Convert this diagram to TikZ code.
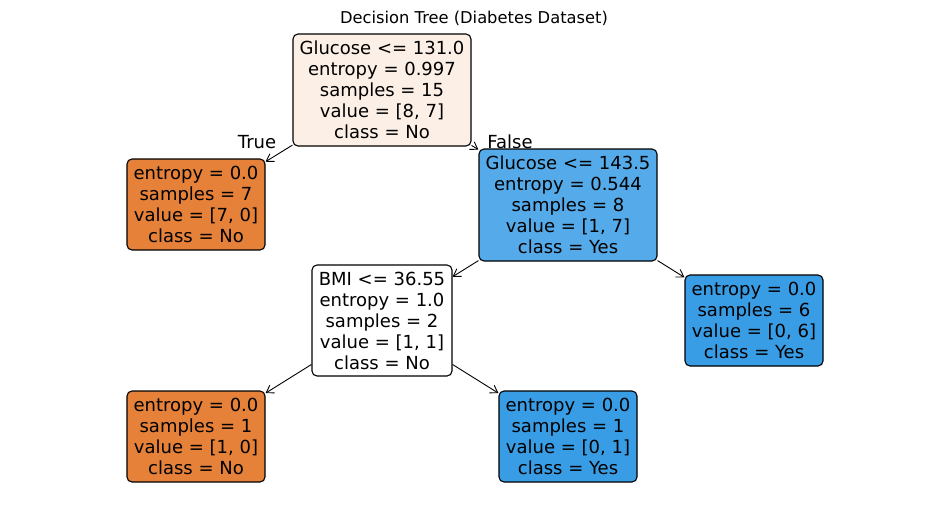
\documentclass[tikz,border=0pt]{standalone}
\usepackage{fontspec}
\setmainfont{DejaVu Sans}
\usetikzlibrary{arrows.meta}
\definecolor{orng}{HTML}{E58139}
\definecolor{blu}{HTML}{399DE5}
\definecolor{rootc}{HTML}{FCEFE6}
\definecolor{midb}{HTML}{55ABE9}
\begin{document}
\begin{tikzpicture}[x=1pt,y=-1pt]
\useasboundingbox (0,0) rectangle (950,504);
\tikzset{
  tn/.style={draw=black, line width=1.1pt, rounded corners=5pt, align=center, inner sep=0pt, font=\fontsize{18}{21}\selectfont},
  big/.style={tn, minimum width=178pt, minimum height=112pt},
  leaf/.style={tn, minimum width=138pt, minimum height=91pt},
  edge/.style={line width=0.9pt, -{Straight Barb[length=7pt,width=9pt]}},
  lbl/.style={font=\fontsize{18}{21}\selectfont}
}
\node[font=\fontsize{16.3}{19}\selectfont] (title) at (474,18) {Decision Tree (Diabetes Dataset)};
\node[big, fill=rootc] (root) at (382,90) {Glucose <= 131.0\\entropy = 0.997\\samples = 15\\value = [8, 7]\\class = No};
\node[leaf, fill=orng] (l1) at (196,204.5) {entropy = 0.0\\samples = 7\\value = [7, 0]\\class = No};
\node[big, fill=midb] (g2) at (568,205) {Glucose <= 143.5\\entropy = 0.544\\samples = 8\\value = [1, 7]\\class = Yes};
\node[tn, fill=white, minimum width=140pt, minimum height=111pt] (bmi) at (382,320.5) {BMI <= 36.55\\entropy = 1.0\\samples = 2\\value = [1, 1]\\class = No};
\node[leaf, fill=blu] (r6) at (754,320.5) {entropy = 0.0\\samples = 6\\value = [0, 6]\\class = Yes};
\node[leaf, fill=orng] (bl) at (196,436.5) {entropy = 0.0\\samples = 1\\value = [1, 0]\\class = No};
\node[leaf, fill=blu] (br) at (568,436.5) {entropy = 0.0\\samples = 1\\value = [0, 1]\\class = Yes};
\draw[edge] (root) -- (l1);
\draw[edge] (root) -- (g2);
\draw[edge] (g2) -- (bmi);
\draw[edge] (g2) -- (r6);
\draw[edge] (bmi) -- (bl);
\draw[edge] (bmi) -- (br);
\node[lbl] (tlab) at (257,142) {True};
\node[lbl] (flab) at (510,142) {False};
\end{tikzpicture}
\end{document}
